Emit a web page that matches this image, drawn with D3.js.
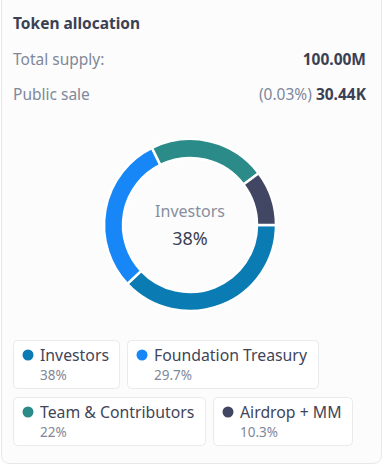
<!DOCTYPE html>
<html><head><meta charset="utf-8">
<script src="https://cdn.jsdelivr.net/npm/d3@7"></script>
<style>
html,body{margin:0;padding:0;background:#fff;}
svg{display:block;font-family:"Noto Sans","Open Sans",sans-serif;}
</style></head><body>
<svg id="c" width="387" height="466"></svg>
<script>
const title = "Token allocation";
const infoLabels = ["Total supply:", "Public sale"];
const infoPct = ["", "(0.03%)"];
const infoValues = ["100.00M", "30.44K"];
const categories = ["Investors", "Foundation Treasury", "Team & Contributors", "Airdrop + MM"];
const values = [38, 29.7, 22, 10.3];
const pctLabels = ["38%", "29.7%", "22%", "10.3%"];
const colors = ["#0a7bb3", "#1787f7", "#2a8b88", "#414663"];

const svg = d3.select("#c");
// card
svg.append("path")
  .attr("d", "M1.5,-10 L1.5,455 Q1.5,463.5 10,463.5 L373,463.5 Q381.5,463.5 381.5,455 L381.5,-10")
  .attr("fill", "#fcfcfd").attr("stroke", "#e6e8ec");

svg.append("text").attr("x", 13).attr("y", 29).text(title)
  .attr("font-size", 15.5).attr("font-weight", 700).attr("fill", "#3b4153");

infoLabels.forEach((l, i) => {
  const y = 65 + i * 35;
  svg.append("text").attr("x", 13).attr("y", y).text(l)
    .attr("font-size", 15.5).attr("fill", "#7f8899");
  const t = svg.append("text").attr("x", 366).attr("y", y).attr("text-anchor", "end")
    .attr("font-size", 15.5);
  if (infoPct[i]) t.append("tspan").attr("fill", "#7f8899").text(infoPct[i] + " ");
  t.append("tspan").attr("font-weight", 700).attr("fill", "#3b4153").text(infoValues[i]);
});

// donut
const cx = 190, cy = 225, R = 86, r = 67;
const pie = d3.pie().sort(null).value(d => d)
  .startAngle(Math.PI / 2).endAngle(Math.PI / 2 + 2 * Math.PI);
const arc = d3.arc().innerRadius(r).outerRadius(R);
const g = svg.append("g").attr("transform", `translate(${cx},${cy})`);
g.selectAll("path").data(pie(values)).join("path")
  .attr("d", arc).attr("fill", (d, i) => colors[i])
  .attr("stroke", "#fff").attr("stroke-width", 2.5);
g.append("text").attr("y", -8).attr("text-anchor", "middle").text(categories[0])
  .attr("font-size", 16).attr("fill", "#868f9e");
g.append("text").attr("y", 20).attr("text-anchor", "middle").text(pctLabels[0])
  .attr("font-size", 18).attr("fill", "#3b4153");

// legend
const boxes = [
  {x: 13, y: 340, w: 106},
  {x: 127, y: 340, w: 191},
  {x: 13, y: 397, w: 192},
  {x: 213, y: 397, w: 139}
];
categories.forEach((c, i) => {
  const b = boxes[i];
  const lg = svg.append("g").attr("transform", `translate(${b.x},${b.y})`);
  lg.append("rect").attr("x", 0.5).attr("y", 0.5).attr("width", b.w).attr("height", 48)
    .attr("rx", 4).attr("fill", "#fff").attr("stroke", "#e8eaee");
  lg.append("circle").attr("cx", 15).attr("cy", 15).attr("r", 5.5).attr("fill", colors[i]);
  lg.append("text").attr("x", 27).attr("y", 21).text(c)
    .attr("font-size", 15.8).attr("fill", "#3f4557");
  lg.append("text").attr("x", 27).attr("y", 40).text(pctLabels[i])
    .attr("font-size", 13.5).attr("fill", "#7f8899");
});
</script>
</body></html>
